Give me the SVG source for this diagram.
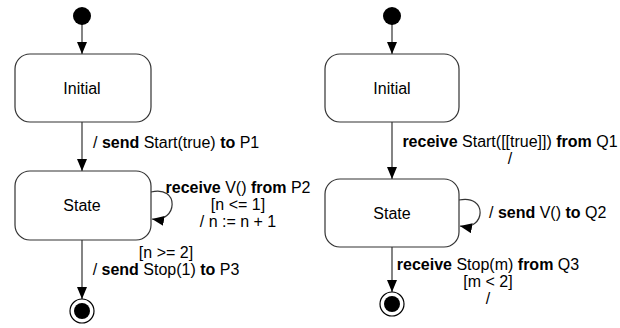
<svg xmlns="http://www.w3.org/2000/svg" width="620" height="328" viewBox="0 0 620 328">
<style>
.t{font-family:"Liberation Sans",Arial,sans-serif;font-size:16px;fill:#000}
.m{text-anchor:middle}
.b{font-weight:bold}
.box{fill:#fff;stroke:#333;stroke-width:1.2}
.e{fill:none;stroke:#333;stroke-width:1.2}
</style>
<defs>
<marker id="arr" markerUnits="userSpaceOnUse" markerWidth="12" markerHeight="10" refX="12" refY="5" orient="auto">
<path d="M0,0 L12,5 L0,10 z" fill="#000"/>
</marker>
</defs>
<rect width="620" height="328" fill="#fff"/>
<g id="connectors">
<line class="e" x1="82" y1="24" x2="82" y2="54" marker-end="url(#arr)"/>
<line class="e" x1="82" y1="122" x2="82" y2="171" marker-end="url(#arr)"/>
<path class="e" d="M151,192 C180,185 178,223 152,219" marker-end="url(#arr)"/>
<line class="e" x1="82" y1="240" x2="82" y2="299" marker-end="url(#arr)"/>
<line class="e" x1="392" y1="24" x2="392" y2="54" marker-end="url(#arr)"/>
<line class="e" x1="392" y1="122" x2="392" y2="179" marker-end="url(#arr)"/>
<path class="e" d="M459,200 C488,194 486,231 460,226" marker-end="url(#arr)"/>
<line class="e" x1="392" y1="247" x2="392" y2="292" marker-end="url(#arr)"/>
<text class="t" x="93" y="148">/ <tspan class="b">send</tspan> Start(true) <tspan class="b">to</tspan> P1</text>
<text class="t m" x="238" y="193"><tspan class="b">receive</tspan> V() <tspan class="b">from</tspan> P2</text>
<text class="t m" x="238" y="210">[n &lt;= 1]</text>
<text class="t m" x="238" y="227">/ n := n + 1</text>
<text class="t m" x="166" y="258">[n &gt;= 2]</text>
<text class="t m" x="166" y="275">/ <tspan class="b">send</tspan> Stop(1) <tspan class="b">to</tspan> P3</text>
<text class="t m" x="510" y="147"><tspan class="b">receive</tspan> Start([[true]]) <tspan class="b">from</tspan> Q1</text>
<text class="t m" x="510" y="164">/</text>
<text class="t" x="489" y="218">/ <tspan class="b">send</tspan> V() <tspan class="b">to</tspan> Q2</text>
<text class="t m" x="488" y="270"><tspan class="b">receive</tspan> Stop(m) <tspan class="b">from</tspan> Q3</text>
<text class="t m" x="488" y="287">[m &lt; 2]</text>
<text class="t m" x="488" y="304">/</text>
</g>
<g id="start1"><circle cx="82" cy="16" r="9" fill="#000"/></g>
<g id="initial1"><rect class="box" x="15" y="54" width="136" height="68" rx="15"/><text class="t m" x="82" y="94">Initial</text></g>
<g id="state1"><rect class="box" x="15" y="171" width="136" height="69" rx="15"/><text class="t m" x="82" y="211">State</text></g>
<g id="final1"><circle cx="82" cy="311" r="12" fill="#fff" stroke="#000" stroke-width="1.2"/><circle cx="82" cy="311" r="8" fill="#000"/></g>
<g id="start2"><circle cx="392" cy="16" r="9" fill="#000"/></g>
<g id="initial2"><rect class="box" x="325" y="54" width="134" height="68" rx="15"/><text class="t m" x="392" y="94">Initial</text></g>
<g id="state2"><rect class="box" x="325" y="179" width="134" height="68" rx="15"/><text class="t m" x="392" y="219">State</text></g>
<g id="final2"><circle cx="392" cy="304" r="12" fill="#fff" stroke="#000" stroke-width="1.2"/><circle cx="392" cy="304" r="8" fill="#000"/></g>
</svg>
